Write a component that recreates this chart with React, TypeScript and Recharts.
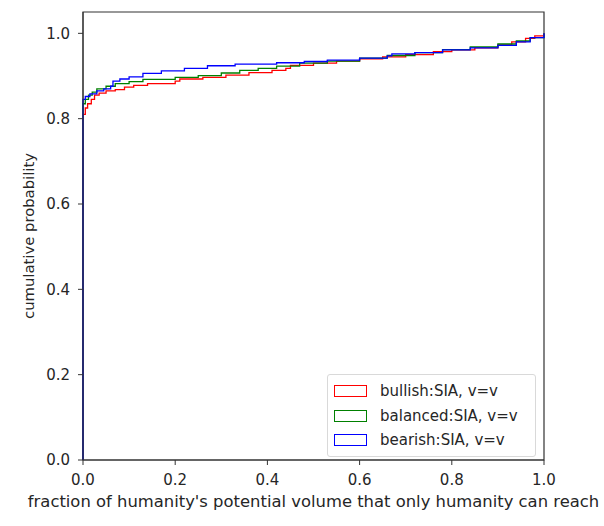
// @ts-nocheck
import React from 'react';
import { LineChart, Line, XAxis, YAxis, Legend, ReferenceArea } from 'recharts';

const FONT = '"DejaVu Sans", sans-serif';

// cumulative step histograms (x = fraction, y = cumulative probability)
const BULLISH_X = [0, 0, 0.005, 0.01, 0.018, 0.025, 0.035, 0.05, 0.07, 0.09, 0.11, 0.14, 0.2, 0.21, 0.26, 0.31, 0.36, 0.41, 0.44, 0.45, 0.5, 0.55, 0.6, 0.65, 0.7, 0.76, 0.8, 0.85, 0.9, 0.93, 0.96, 0.98, 1];
const BULLISH_Y = [0, 0.81, 0.825, 0.835, 0.845, 0.855, 0.86, 0.865, 0.868, 0.874, 0.878, 0.882, 0.888, 0.893, 0.897, 0.902, 0.908, 0.913, 0.918, 0.925, 0.93, 0.935, 0.94, 0.945, 0.95, 0.957, 0.961, 0.966, 0.973, 0.98, 0.988, 0.994, 1];

const BALANCED_X = [0, 0, 0.005, 0.012, 0.02, 0.03, 0.05, 0.07, 0.1, 0.13, 0.2, 0.25, 0.3, 0.34, 0.38, 0.42, 0.47, 0.53, 0.6, 0.66, 0.72, 0.78, 0.84, 0.9, 0.94, 0.97, 1];
const BALANCED_Y = [0, 0.835, 0.845, 0.855, 0.862, 0.87, 0.876, 0.882, 0.887, 0.892, 0.897, 0.901, 0.907, 0.913, 0.918, 0.923, 0.93, 0.935, 0.942, 0.948, 0.955, 0.962, 0.968, 0.975, 0.982, 0.99, 1];

const BEARISH_X = [0, 0, 0.005, 0.015, 0.03, 0.045, 0.06, 0.065, 0.08, 0.1, 0.13, 0.17, 0.22, 0.27, 0.33, 0.42, 0.48, 0.53, 0.6, 0.66, 0.67, 0.72, 0.78, 0.84, 0.9, 0.94, 0.97, 1];
const BEARISH_Y = [0, 0.845, 0.852, 0.858, 0.865, 0.87, 0.876, 0.888, 0.893, 0.898, 0.906, 0.912, 0.918, 0.924, 0.928, 0.931, 0.934, 0.937, 0.942, 0.947, 0.952, 0.955, 0.961, 0.966, 0.972, 0.98, 0.99, 1];

const TICKS = [0, 0.2, 0.4, 0.6, 0.8, 1.0];

const SERIES = [
  { name: 'bullish:SIA, v=v', color: '#ff0000', xs: BULLISH_X, ys: BULLISH_Y },
  { name: 'balanced:SIA, v=v', color: '#008000', xs: BALANCED_X, ys: BALANCED_Y },
  { name: 'bearish:SIA, v=v', color: '#0000ff', xs: BEARISH_X, ys: BEARISH_Y },
];

const zip = (xs, ys) => xs.map((x, i) => ({ x, y: ys[i] }));

const tickStyle = { fontSize: 15, fill: '#262626', fontFamily: FONT };

function LegendBox() {
  return (
    <div
      style={{
        border: '1px solid #d9d9d9',
        borderRadius: 3,
        background: 'rgba(255,255,255,0.8)',
        padding: '4px 6px 3px 6px',
        fontFamily: FONT,
        fontSize: 15,
        color: '#262626',
        boxSizing: 'border-box',
      }}
    >
      {SERIES.map((s) => (
        <div key={s.name} style={{ display: 'flex', alignItems: 'center', height: 24.5 }}>
          <span
            style={{
              display: 'inline-block',
              width: 31,
              height: 10,
              border: `1.3px solid ${s.color}`,
              marginRight: 13,
            }}
          />
          {s.name}
        </div>
      ))}
    </div>
  );
}

export default function App() {
  return (
    <div style={{ position: 'absolute', left: 0, top: 0, width: 604, height: 526, background: '#fff' }}>
      <LineChart width={604} height={526} margin={{ top: 12, right: 60, bottom: 16, left: 8 }}>
        <XAxis
          type="number"
          dataKey="x"
          domain={[0, 1]}
          ticks={TICKS}
          tickFormatter={(v) => v.toFixed(1)}
          allowDuplicatedCategory={false}
          stroke="#333"
          tick={tickStyle}
          tickSize={5}
          tickMargin={9}
          height={50}
          label={{
            content: (p) => {
              const vb = p.viewBox;
              return (
                <text x={vb.x + vb.width / 2} y={vb.y + 47} textAnchor="middle" fontSize={16.4} fontFamily={FONT} fill="#262626">
                  fraction of humanity's potential volume that only humanity can reach
                </text>
              );
            },
          }}
        />
        <YAxis
          type="number"
          dataKey="y"
          domain={[0, 1.05]}
          ticks={TICKS}
          tickFormatter={(v) => v.toFixed(1)}
          stroke="#333"
          tick={tickStyle}
          tickSize={5}
          tickMargin={8}
          width={75}
          label={{
            content: (p) => {
              const vb = p.viewBox;
              const cx = vb.x + 22;
              const cy = vb.y + vb.height / 2;
              return (
                <text x={cx} y={cy} transform={`rotate(-90, ${cx}, ${cy})`} textAnchor="middle" dominantBaseline="middle" fontSize={14.8} fontFamily={FONT} fill="#262626">
                  cumulative probability
                </text>
              );
            },
          }}
        />
        <ReferenceArea x1={0} x2={1} y1={0} y2={1.05} fill="none" stroke="#333" strokeWidth={1.2} ifOverflow="visible" />
        {SERIES.map((s) => (
          <Line
            key={s.name}
            data={zip(s.xs, s.ys)}
            dataKey="y"
            name={s.name}
            type="stepAfter"
            stroke={s.color}
            strokeWidth={1.3}
            dot={false}
            activeDot={false}
            isAnimationActive={false}
          />
        ))}
        <Legend
          layout="vertical"
          align="center"
          verticalAlign="middle"
          content={<LegendBox />}
          wrapperStyle={{ left: 327, top: 374, width: 209 }}
        />
      </LineChart>
    </div>
  );
}
